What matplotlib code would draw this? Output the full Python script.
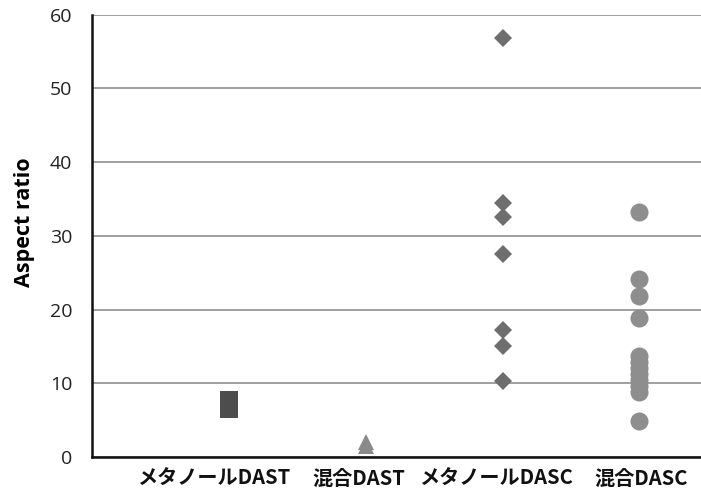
import matplotlib
matplotlib.use("Agg")
import matplotlib.pyplot as plt

# Category labels and the aspect ratios measured for each sample group
categories = ["メタノールDAST", "混合DAST", "メタノールDASC", "混合DASC"]
methanol_dast = [6.5, 7.8]
mixed_dast = [1.5, 2.1]
methanol_dasc = [56.8, 34.5, 32.5, 27.5, 17.2, 15.1, 10.3]
mixed_dasc = [33.2, 24.2, 21.9, 18.8, 13.7, 12.9, 12.1, 11.2, 10.4, 9.6, 8.8, 4.9]
y_ticks = [0, 10, 20, 30, 40, 50, 60]

# Where each group's category label sits along the x axis
label_x = [0.89, 1.95, 2.95, 4.01]

series = [
    (methanol_dast, "s", 13.5, "#4d4d4d"),
    (mixed_dast, "^", 11.5, "#8a8a8a"),
    (methanol_dasc, "D", 9, "#6e6e6e"),
    (mixed_dasc, "o", 13, "#8e8e8e"),
]

plt.rcParams["font.family"] = ["Open Sans", "DejaVu Sans"]

fig = plt.figure(figsize=(7.01, 4.93), dpi=100)
ax = fig.add_axes([0.131, 0.073, 0.869, 0.897])

for i, (vals, marker, ms, color) in enumerate(series, start=1):
    ax.plot([i] * len(vals), vals, linestyle="none", marker=marker,
            markersize=ms, color=color, markeredgewidth=0, clip_on=False,
            zorder=3)

ax.set_xlim(0, 4.45)
ax.set_ylim(0, 60)
ax.set_yticks(y_ticks)
ax.set_yticklabels([str(t) for t in y_ticks], fontsize=14, color="#222222")
ax.tick_params(axis="y", length=0, pad=14)

ax.set_xticks(label_x)
ax.set_xticklabels(categories, fontsize=14.5, fontweight="bold",
                   family=["Noto Sans CJK JP", "DejaVu Sans"], color="#111111")
ax.tick_params(axis="x", length=0, pad=8)

ax.yaxis.grid(True, color="#8f8f8f", linewidth=1.2)
ax.set_axisbelow(True)

for side in ("top", "right"):
    ax.spines[side].set_visible(False)
for side in ("left", "bottom"):
    ax.spines[side].set_color("#111111")
    ax.spines[side].set_linewidth(1.8)

ax.set_ylabel("Aspect ratio", fontsize=15.5, fontweight="bold")
ax.yaxis.set_label_coords(-0.094, 0.531)

fig.savefig("out.png", dpi=100)
